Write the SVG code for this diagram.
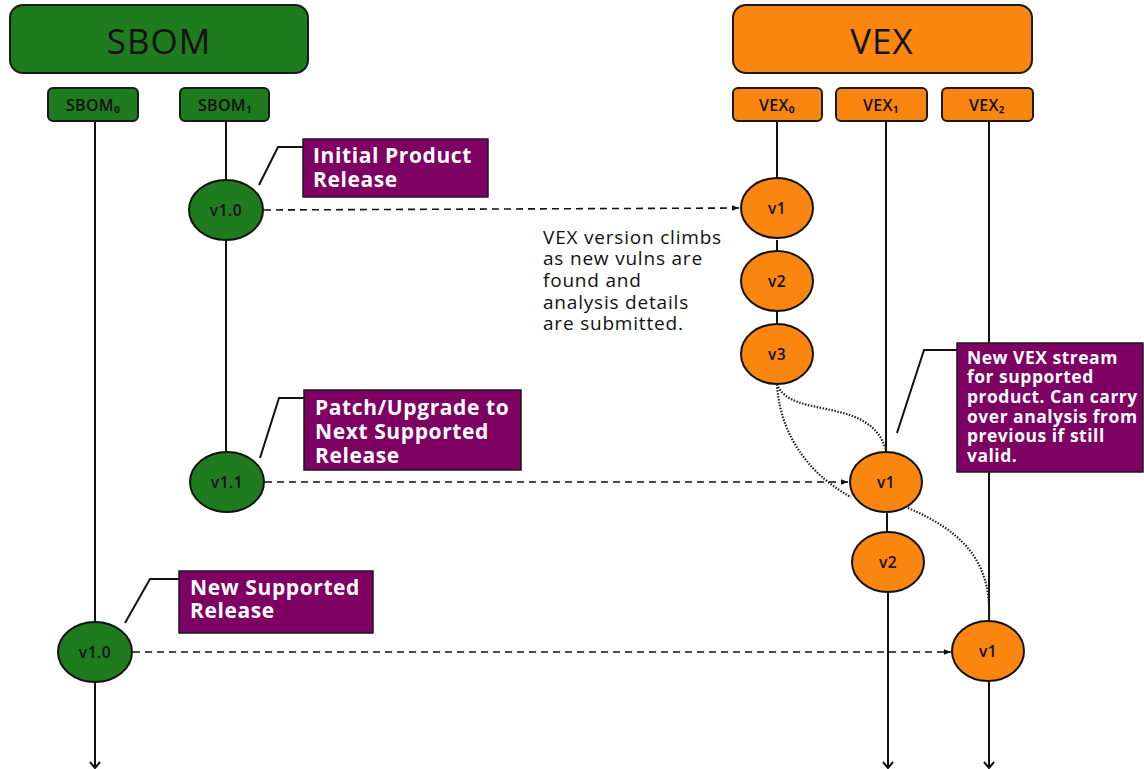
<svg xmlns="http://www.w3.org/2000/svg" width="1144" height="769" viewBox="0 0 1144 769">
<defs>
<style>
.hdr{stroke:#1a1a1a;stroke-width:2}
.g{fill:#1e7b1e}
.o{fill:#fa850f}
.p{fill:#7d0062;stroke:#1a1a1a;stroke-width:1.5}
.node{stroke:#111;stroke-width:2}
.ht{font-family:"Open Sans","Noto Sans",sans-serif;font-size:35px;font-weight:500;letter-spacing:1px;fill:#111;text-anchor:middle;dominant-baseline:central}
.st{font-family:"Open Sans","Noto Sans",sans-serif;font-size:16px;font-weight:600;letter-spacing:0.3px;fill:#111;text-anchor:middle;dominant-baseline:central}
.vt{font-family:"Open Sans","Noto Sans",sans-serif;font-size:15.5px;font-weight:600;letter-spacing:0.5px;fill:#111;text-anchor:middle;dominant-baseline:central}
.ct{font-family:"Open Sans","Noto Sans",sans-serif;font-weight:700;font-size:21px;letter-spacing:0.6px;fill:#fff;dominant-baseline:central}
.ct2{font-family:"Open Sans","Noto Sans",sans-serif;font-weight:700;font-size:17.5px;letter-spacing:0.5px;fill:#fff;dominant-baseline:central}
.bt{font-family:"Open Sans","Noto Sans",sans-serif;font-size:19px;font-weight:500;letter-spacing:0.8px;fill:#111;dominant-baseline:central}
.line{stroke:#111;stroke-width:2;fill:none}
.dash{stroke:#111;stroke-width:1.6;fill:none;stroke-dasharray:7 5}
.dot{stroke:#222;stroke-width:2.2;fill:none;stroke-dasharray:1.5 1.5}
.lead{stroke:#111;stroke-width:2;fill:none}
</style>
<marker id="ah" viewBox="0 0 10 10" refX="10" refY="5" markerWidth="7" markerHeight="7" orient="auto" markerUnits="userSpaceOnUse">
<path d="M0,1 L10,5 L0,9 Z" fill="#111"/>
</marker>
<marker id="oa" viewBox="0 0 12 12" refX="6" refY="11" markerWidth="12" markerHeight="12" orient="0" markerUnits="userSpaceOnUse">
<path d="M1,5 L6,11 L11,5" fill="none" stroke="#111" stroke-width="2"/>
</marker>
</defs>
<rect width="1144" height="769" fill="#fff"/>

<g id="connectors">
<line class="line" x1="95" y1="121" x2="95" y2="622"/>
<line class="line" x1="95" y1="682" x2="95" y2="768" marker-end="url(#oa)"/>
<line class="line" x1="226" y1="121" x2="226" y2="180"/>
<line class="line" x1="226" y1="240" x2="226" y2="452"/>
<line class="line" x1="777" y1="121" x2="777" y2="178"/>
<line class="line" x1="777" y1="240" x2="777" y2="251"/>
<line class="line" x1="777" y1="311" x2="777" y2="324"/>
<line class="line" x1="886" y1="121" x2="886" y2="452"/>
<line class="line" x1="887" y1="512" x2="887" y2="532"/>
<line class="line" x1="888" y1="592" x2="888" y2="768" marker-end="url(#oa)"/>
<line class="line" x1="989" y1="121" x2="989" y2="621"/>
<line class="line" x1="989" y1="681" x2="989" y2="768" marker-end="url(#oa)"/>
<line class="dash" x1="264" y1="210" x2="739" y2="208" marker-end="url(#ah)"/>
<line class="dash" x1="265" y1="482" x2="848" y2="482" marker-end="url(#ah)"/>
<line class="dash" x1="133" y1="652" x2="951" y2="652" marker-end="url(#ah)"/>
<path class="dot" d="M777,384 C790,420 870,395 886,450"/>
<path class="dot" d="M777,384 C780,440 815,478 851,497"/>
<path class="dot" d="M908,508 C960,530 992,560 989,619"/>
<polyline class="lead" points="259,185 278,147 303,147"/>
<polyline class="lead" points="260,458 279,398 304,398"/>
<polyline class="lead" points="125,623 150,579 179,579"/>
<polyline class="lead" points="897,433 924,350 957,350"/>
</g>

<g id="sbom-header"><rect class="g hdr" x="10" y="5" width="298" height="68" rx="13"/><text class="ht" x="159" y="40">SBOM</text></g>
<g id="vex-header"><rect class="o hdr" x="733" y="5" width="299" height="68" rx="13"/><text class="ht" x="882" y="40">VEX</text></g>

<g id="sbom0"><rect class="g hdr" x="48" y="88" width="90" height="33" rx="5" stroke-width="1.5"/><text class="st" x="93" y="105">SBOM₀</text></g>
<g id="sbom1"><rect class="g hdr" x="180" y="88" width="89" height="33" rx="5" stroke-width="1.5"/><text class="st" x="225" y="105">SBOM₁</text></g>
<g id="vex0"><rect class="o hdr" x="733" y="88" width="89" height="33" rx="5" stroke-width="1.5"/><text class="st" x="777" y="105">VEX₀</text></g>
<g id="vex1"><rect class="o hdr" x="836" y="88" width="91" height="33" rx="5" stroke-width="1.5"/><text class="st" x="881" y="105">VEX₁</text></g>
<g id="vex2"><rect class="o hdr" x="942" y="88" width="91" height="33" rx="5" stroke-width="1.5"/><text class="st" x="987" y="105">VEX₂</text></g>

<g id="sbom1-v10"><ellipse class="g node" cx="226" cy="210" rx="37" ry="30"/><text class="vt" x="226" y="210">v1.0</text></g>
<g id="sbom1-v11"><ellipse class="g node" cx="227" cy="482" rx="37" ry="30"/><text class="vt" x="227" y="482">v1.1</text></g>
<g id="sbom0-v10"><ellipse class="g node" cx="95" cy="652" rx="37" ry="30"/><text class="vt" x="95" y="652">v1.0</text></g>

<g id="vex0-v1"><ellipse class="o node" cx="777" cy="208" rx="36" ry="30"/><text class="vt" x="777" y="208">v1</text></g>
<g id="vex0-v2"><ellipse class="o node" cx="777" cy="281" rx="36" ry="30"/><text class="vt" x="777" y="281">v2</text></g>
<g id="vex0-v3"><ellipse class="o node" cx="777" cy="354" rx="36" ry="30"/><text class="vt" x="777" y="354">v3</text></g>
<g id="vex1-v1"><ellipse class="o node" cx="886" cy="482" rx="36" ry="30"/><text class="vt" x="886" y="482">v1</text></g>
<g id="vex1-v2"><ellipse class="o node" cx="888" cy="562" rx="36" ry="30"/><text class="vt" x="888" y="562">v2</text></g>
<g id="vex2-v1"><ellipse class="o node" cx="988" cy="651" rx="36" ry="30"/><text class="vt" x="988" y="651">v1</text></g>

<g id="note-initial"><rect class="p" x="303" y="139" width="185" height="58"/><text class="ct" x="313" y="155">Initial Product</text><text class="ct" x="313" y="179">Release</text></g>
<g id="note-patch"><rect class="p" x="304" y="390" width="217" height="80"/><text class="ct" x="315" y="407">Patch/Upgrade to</text><text class="ct" x="315" y="431">Next Supported</text><text class="ct" x="315" y="455">Release</text></g>
<g id="note-new"><rect class="p" x="179" y="571" width="194" height="62"/><text class="ct" x="190" y="587">New Supported</text><text class="ct" x="190" y="610">Release</text></g>
<g id="note-vex"><rect class="p" x="957" y="343" width="186" height="129"/>
<text class="ct2" x="967" y="357">New VEX stream</text>
<text class="ct2" x="967" y="376">for supported</text>
<text class="ct2" x="967" y="396">product. Can carry</text>
<text class="ct2" x="967" y="416">over analysis from</text>
<text class="ct2" x="967" y="435">previous if still</text>
<text class="ct2" x="967" y="455">valid.</text>
</g>

<g id="vex-text">
<text class="bt" x="543" y="237">VEX version climbs</text>
<text class="bt" x="543" y="258">as new vulns are</text>
<text class="bt" x="543" y="280">found and</text>
<text class="bt" x="543" y="302">analysis details</text>
<text class="bt" x="543" y="323">are submitted.</text>
</g>
</svg>
